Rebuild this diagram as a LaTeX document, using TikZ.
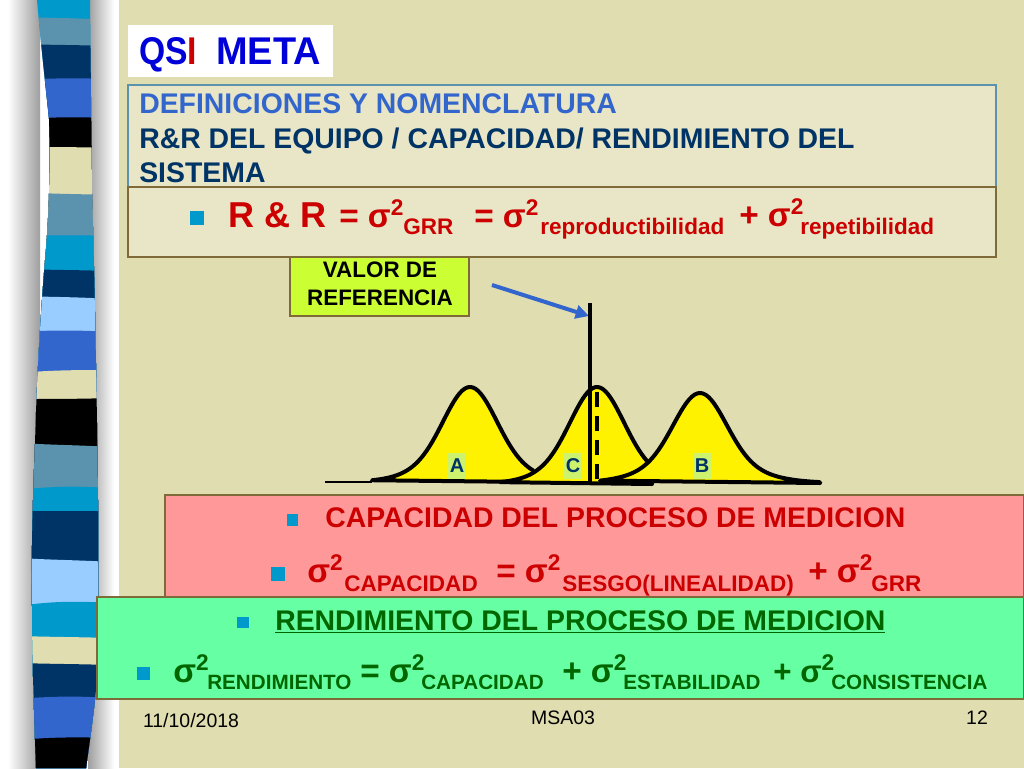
\documentclass[tikz,border=0pt]{standalone}
\usepackage{fontspec}
\usetikzlibrary{arrows.meta}
\setmainfont{Liberation Sans}
\definecolor{slidebg}{HTML}{E0DDB0}
\definecolor{boxbg}{HTML}{E8E6C6}
\definecolor{stcyan}{HTML}{0099CC}
\definecolor{ststeel}{HTML}{5B93AE}
\definecolor{stnavy}{HTML}{003366}
\definecolor{stroyal}{HTML}{3366CC}
\definecolor{stlight}{HTML}{99CCFF}
\definecolor{boxedge}{HTML}{7F6A3A}
\definecolor{redtxt}{HTML}{CC0000}
\definecolor{greentxt}{HTML}{006600}
\definecolor{limebox}{HTML}{CCFF33}
\definecolor{labelbg}{HTML}{CDF26E}
\newcommand{\stripe}[4]{\fill[#1] (20,#2) .. controls (50,#3) and (80,#3) .. (110,#4) -- (110,768) -- (20,768) -- cycle;}
\newcommand{\sigpow}{σ\raisebox{0.36em}{\fontsize{17}{17}\selectfont 2}}
\tikzset{
  slidebox/.style={draw=boxedge, line width=0.9pt},
  main/.style={anchor=base west, inner sep=0pt, font=\fontsize{25}{25}\selectfont\bfseries},
  sub/.style={anchor=base west, inner sep=0pt, font=\fontsize{16.9}{17}\selectfont\bfseries},
  subgreen/.style={anchor=base west, inner sep=0pt, font=\fontsize{15.5}{16}\selectfont\bfseries, text=greentxt},
  head/.style={anchor=base west, inner sep=0pt, font=\fontsize{21.3}{22}\selectfont\bfseries, text=stnavy},
  title/.style={anchor=base west, inner sep=0pt, font=\fontsize{21.3}{22}\selectfont\bfseries},
  foot/.style={anchor=base, inner sep=0pt, font=\fontsize{14.6}{15}\selectfont},
  bell/.style={fill=yellow, draw=black, line width=3pt, line join=round},
  letter/.style={fill=labelbg, inner sep=0pt, minimum width=13.5pt, minimum height=19pt, font=\fontsize{15}{15}\selectfont\bfseries, text=stnavy}
}
\begin{document}
\begin{tikzpicture}[x=0.75pt, y=-0.75pt]
\useasboundingbox (0,0) rectangle (1024,768);
\fill[slidebg] (0,0) rectangle (1024,768);
\fill[white] (0,0) rectangle (119,768);

% shadow either side of the strip
\shade[left color=white, right color=black!38] (8,0) rectangle (40,768);
\shade[left color=black!38, right color=white] (88,0) rectangle (114,768);

% the strip
\begin{scope}
\clip (37,0) .. controls (41,45) and (46,90) .. (49,119) .. controls (51,170) and (48,230) .. (45,260)
  .. controls (41,310) and (37,370) .. (35,444) .. controls (33,490) and (31,560) .. (32,606)
  .. controls (32,660) and (34,710) .. (36,768) -- (86,768) .. controls (90,740) and (94,710) .. (96,690)
  -- (98,600) -- (98,500) .. controls (97,400) and (94,250) .. (92,194) -- (90,0) -- cycle;
\stripe{stcyan}{0}{0}{0}
\stripe{ststeel}{17}{18}{20}
\stripe{stnavy}{44}{45}{46}
\stripe{stroyal}{80}{78}{79}
\stripe{black}{119}{117}{118}
\stripe{slidebg}{147}{147}{148}
\stripe{ststeel}{192}{194}{195}
\stripe{stcyan}{236}{235}{236}
\stripe{stnavy}{269}{270}{271}
\stripe{stlight}{296}{297}{299}
\stripe{stroyal}{332}{330}{332}
\stripe{slidebg}{373}{370}{370}
\stripe{black}{399}{399}{398}
\stripe{ststeel}{443}{445}{447}
\stripe{stcyan}{490}{486}{488}
\stripe{stnavy}{511}{511}{511}
\stripe{stlight}{558}{560}{562}
\stripe{stcyan}{606}{601}{603}
\stripe{slidebg}{636}{637}{638}
\stripe{stnavy}{663}{664}{665}
\stripe{stroyal}{699}{696}{698}
\stripe{black}{740}{737}{738}
\end{scope}

% logo
\fill[white] (128,25) rectangle (333,77);
\node[anchor=base west, inner sep=0pt, font=\fontsize{29}{29}\selectfont\bfseries, text=blue!85!black] (logoa) at (139,64) {\scalebox{0.87}[1]{QS\textcolor{red!80!black}{I}}};
\node[anchor=base west, inner sep=0pt, font=\fontsize{29}{29}\selectfont\bfseries, text=blue!85!black] (logob) at (216,64) {\scalebox{0.98}[1]{META}};

% header boxes
\draw[draw=ststeel, fill=boxbg, line width=0.9pt] (128,85) rectangle (996,187);
\node[head, text=stroyal] (headone) at (139,113) {DEFINICIONES Y NOMENCLATURA};
\node[head] (headtwo) at (139,148) {R\&R DEL EQUIPO / CAPACIDAD/ RENDIMIENTO DEL};
\node[head] (headthree) at (139,182) {SISTEMA};

\draw[slidebox, fill=boxbg] (128,187) rectangle (996,257);
\fill[stcyan] (190,211) rectangle (204,225);
\node[main, text=redtxt, font=\fontsize{27}{27}\selectfont\bfseries] (rra) at (228,227) {R \& R};
\node[main, text=redtxt] (rrb) at (339,227) {= \sigpow};
\node[sub, text=redtxt] (rrc) at (403,234) {GRR};
\node[main, text=redtxt] (rrd) at (474,227) {= \sigpow};
\node[sub, text=redtxt] (rre) at (540,234) {reproductibilidad};
\node[main, text=redtxt] (rrf) at (739,226) {+ \sigpow};
\node[sub, text=redtxt] (rrg) at (800,234) {repetibilidad};

% valor de referencia
\draw[slidebox, fill=limebox] (290,257) rectangle (469,316);
\node[inner sep=0pt, font=\fontsize{16.8}{21}\selectfont\bfseries, align=center] (valor) at (380,284) {VALOR DE\\[0pt]REFERENCIA};
\coordinate (arrowstart) at (492,285);
\coordinate (arrowtip) at (589,316);
\draw[-{Triangle[length=10pt, width=10pt]}, stroyal, line width=3pt] (arrowstart) -- (arrowtip);

% curves
\draw[line width=1pt] (325,482) -- (372,482);
\draw[bell] plot[domain=372:533, samples=60] (\x,{482-70*exp(-(\x-470)^2/1300)-25*exp(-(\x-470)^2/3600)}) -- (533,482) -- cycle;
\draw[bell] plot[domain=500:652, samples=60] (\x,{484-72*exp(-(\x-597)^2/1300)-25*exp(-(\x-597)^2/3600)}) -- (652,484) -- cycle;
\draw[bell] plot[domain=600:820, samples=80] (\x,{483-68*exp(-(\x-700)^2/1300)-22*exp(-(\x-700)^2/4500)}) -- (820,483) -- cycle;
\draw[line width=2.4pt, dash pattern=on 11pt off 7pt] (597,392) -- (597,483);
\draw[line width=2.5pt] (590,303) -- (590,485);
\node[letter] (lettera) at (457,466) {A};
\node[letter] (letterc) at (573,466) {C};
\node[letter] (letterb) at (702,466) {B};

% capacidad
\draw[slidebox, fill=red!40!white] (165,495) rectangle (1023.5,597);
\fill[stcyan] (287,514) rectangle (298,526);
\node[title, text=redtxt] (capa) at (325,527) {CAPACIDAD DEL PROCESO DE MEDICION};
\fill[stcyan] (271,567) rectangle (285,581);
\node[main, text=redtxt] (capb) at (307,582) {\sigpow};
\node[sub, text=redtxt] (capc) at (344,591) {CAPACIDAD};
\node[main, text=redtxt] (capd) at (496,582) {= \sigpow};
\node[sub, text=redtxt] (cape) at (562,591) {SESGO(LINEALIDAD)};
\node[main, text=redtxt] (capf) at (808,582) {+ \sigpow};
\node[sub, text=redtxt] (capg) at (871,591) {GRR};

% rendimiento
\draw[slidebox, fill=green!60!cyan!60!white] (97,597) rectangle (1023.5,699);
\fill[stcyan] (237,617) rectangle (249,628);
\node[title, text=greentxt] (renda) at (275,630) {\underline{RENDIMIENTO DEL PROCESO DE MEDICION}};
\fill[stcyan] (137,667) rectangle (150,680);
\node[main, text=greentxt] (rendb) at (173,682) {\sigpow};
\node[subgreen] (rendc) at (207,689) {RENDIMIENTO};
\node[main, text=greentxt] (rendd) at (360,682) {= \sigpow};
\node[subgreen] (rende) at (421,689) {CAPACIDAD};
\node[main, text=greentxt] (rendf) at (562,682) {+ \sigpow};
\node[subgreen] (rendg) at (623,689) {ESTABILIDAD};
\node[main, text=greentxt, font=\fontsize{23.5}{24}\selectfont\bfseries] (rendh) at (773,682) {+ \sigpow};
\node[subgreen] (rendi) at (831,689) {CONSISTENCIA};

% footer
\node[foot] (date) at (191,727) {11/10/2018};
\node[foot] (code) at (563,724) {MSA03};
\node[foot] (page) at (977,724) {12};
\end{tikzpicture}
\end{document}
